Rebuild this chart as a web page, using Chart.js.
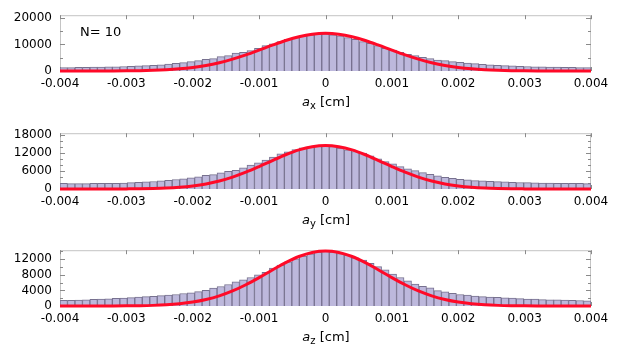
<!DOCTYPE html>
<html>
<head>
<meta charset="utf-8">
<script src="https://cdn.jsdelivr.net/npm/chart.js@4.4.0/dist/chart.umd.min.js"></script>
<style>
  body { margin: 0; background: #fff; }
  #wrap { position: relative; width: 632px; height: 357px; overflow: hidden; font-family: "DejaVu Sans", sans-serif; }
  canvas { position: absolute; left: 0; }
  .xt { position: absolute; left: 226px; width: 200px; text-align: center; font-size: 13px; line-height: 16px; color: #000; }
  .xt sub { font-size: 10px; vertical-align: -3px; line-height: 0; }
  .note { position: absolute; left: 80px; top: 24px; font-size: 13px; line-height: 16px; }
</style>
</head>
<body>
<div id="wrap">
  <canvas id="cx" width="632" height="95" style="top:0px"></canvas>
  <canvas id="cy" width="632" height="95" style="top:118px"></canvas>
  <canvas id="cz" width="632" height="95" style="top:235px"></canvas>
  <div class="note">N= 10</div>
  <div class="xt" style="top:94px"><i>a</i><sub>x</sub> [cm]</div>
  <div class="xt" style="top:212px"><i>a</i><sub>y</sub> [cm]</div>
  <div class="xt" style="top:329px"><i>a</i><sub>z</sub> [cm]</div>
</div>
<script>
Chart.defaults.font.family = "DejaVu Sans";
Chart.defaults.font.size = 12;
Chart.defaults.color = '#000';

// histogram range, 71 bins
const binLo = -0.004;
const binHi = 0.004;
const nBins = 71;

// counts per bin, left to right
const countsX = [
  1300,1300,1350,1400,1450,1500,1550,1600,1700,1800,1900,2000,2150,2350,2600,2850,3150,3500,
  3900,4400,4650,5400,5800,6700,7050,7650,8550,9550,10200,11050,11950,12550,13200,13600,13850,
  13950,
  13600,13200,12550,11950,11050,10450,9550,8550,7900,7050,6300,5800,5150,4650,4150,3900,3500,
  3300,3000,2750,2500,2300,2150,2000,1900,1800,1700,1600,1550,1500,1450,1400,1350,1300,1300
];
const countsY = [
  1900,1800,1800,1800,1850,1850,1900,1900,2000,2100,2200,2350,2500,2700,2900,3150,3400,3670,
  4000,4560,4780,5330,5890,6220,7000,7890,8670,9560,10560,11670,12330,13100,13670,14000,14200,
  14300,
  14100,13560,13000,12440,11890,11000,10000,9100,8330,7440,6670,6110,5440,4890,4330,3890,3560,
  3220,3000,2800,2700,2550,2450,2350,2250,2150,2100,2050,2000,1950,1900,1900,1850,1850,1800
];
const countsZ = [
  1450,1450,1500,1600,1700,1750,1850,1950,2050,2150,2300,2400,2500,2650,2800,2950,3200,3400,
  3700,4000,4600,5000,5500,6200,6700,7300,8000,8600,9700,10500,11300,12100,12800,13400,13800,
  14000,
  13850,13450,13020,12340,11760,10930,10080,9240,8160,7300,6470,5640,5040,4630,3950,3620,3270,
  2950,2770,2520,2400,2300,2200,2100,2000,1900,1800,1750,1650,1600,1550,1500,1450,1400,1350
];

// red fit curve, sampled every 0.0002 from -0.004 to 0.004
const curveStep = 0.0002;
const curveX = [1,3,6,15,30,70,140,260,470,810,1340,2090,3130,4460,6060,7860,9730,11480,12920,13870,
  14200,13870,12920,11480,9730,7860,6060,4460,3130,2090,1340,810,470,260,140,70,30,15,6,3,1];
const curveY = [0,1,2,6,15,40,80,170,320,590,1030,1690,2660,3950,5560,7440,9440,11350,12960,14020,
  14400,14020,12960,11350,9440,7440,5560,3950,2660,1690,1030,590,320,170,80,40,15,6,2,1,0];
const curveZ = [0,1,2,6,15,40,80,160,310,580,1000,1660,2600,3860,5450,7280,9240,11120,12690,13730,
  14100,13730,12690,11120,9240,7280,5450,3860,2600,1660,1000,580,310,160,80,40,15,6,2,1,0];

// x ticks (same for all panels)
const xTicks = [-0.004, -0.003, -0.002, -0.001, 0, 0.001, 0.002, 0.003, 0.004];
const xLabels = ['-0.004', '-0.003', '-0.002', '-0.001', '0', '0.001', '0.002', '0.003', '0.004'];

// y ticks: all tick marks, the labelled ones, and the axis max
const yTicksX = [0, 5000, 10000, 15000, 20000];
const yLabelsX = [0, 10000, 20000];
const yMaxX = 21000;
const yTicksY = [0, 2000, 4000, 6000, 8000, 10000, 12000, 14000, 16000, 18000];
const yLabelsY = [0, 6000, 12000, 18000];
const yMaxY = 18500;
const yTicksZ = [0, 2000, 4000, 6000, 8000, 10000, 12000, 14000];
const yLabelsZ = [0, 4000, 8000, 12000];
const yMaxZ = 14300;

const binWidth = (binHi - binLo) / nBins;

// box round the plot with small inward ticks
const frame = {
  id: 'frame',
  beforeDatasetsDraw(chart, args, opts) {
    const ctx = chart.ctx;
    const a = chart.chartArea;
    const sx = chart.scales.x;
    const sy = chart.scales.y;
    ctx.save();
    ctx.strokeStyle = '#c4c4c4';
    ctx.lineWidth = 1;
    ctx.strokeRect(a.left + 0.5, a.top + 0.5, a.width - 1, a.height - 1);
    ctx.strokeStyle = '#8a8a8a';
    ctx.beginPath();
    sx.ticks.forEach(t => {
      const px = Math.round(sx.getPixelForValue(t.value)) + 0.5;
      ctx.moveTo(px, a.top); ctx.lineTo(px, a.top + 4);
      ctx.moveTo(px, a.bottom); ctx.lineTo(px, a.bottom - 4);
    });
    sy.ticks.forEach(t => {
      const py = Math.round(sy.getPixelForValue(t.value)) + 0.5;
      const len = opts.labels.includes(t.value) ? 5 : 3;
      ctx.moveTo(a.left, py); ctx.lineTo(a.left + len, py);
      ctx.moveTo(a.right, py); ctx.lineTo(a.right - len, py);
    });
    ctx.stroke();
    ctx.restore();
  }
};

function drawPanel(id, counts, curve, yTicks, yLabels, yMax) {
  let bars = [];
  for (let i = 0; i < counts.length; i++) {
    bars.push({ x: binLo + (i + 0.5) * binWidth, y: counts[i] });
  }
  let line = [];
  for (let i = 0; i < curve.length; i++) {
    line.push({ x: binLo + i * curveStep, y: curve[i] });
  }

  new Chart(document.getElementById(id), {
    type: 'bar',
    data: {
      datasets: [
        {
          type: 'line',
          data: line,
          borderColor: '#ff0a28',
          borderWidth: 3,
          pointRadius: 0,
          cubicInterpolationMode: 'monotone',
          clip: false,
          order: 0
        },
        {
          data: bars,
          backgroundColor: '#bdb8dc',
          borderColor: '#77718f',
          borderWidth: 1,
          barPercentage: 1,
          categoryPercentage: 1,
          order: 1
        }
      ]
    },
    options: {
      responsive: false,
      animation: false,
      layout: { padding: { top: 15, right: 41, left: 0, bottom: 0 } },
      plugins: {
        legend: { display: false },
        tooltip: { enabled: false },
        frame: { labels: yLabels }
      },
      scales: {
        x: {
          type: 'linear',
          min: binLo,
          max: binHi,
          offset: false,
          grid: { display: false, drawTicks: false },
          border: { display: false },
          afterFit: s => { s.height = 24; },
          afterBuildTicks: s => { s.ticks = xTicks.map(v => ({ value: v })); },
          ticks: {
            autoSkip: false,
            maxRotation: 0,
            padding: 6,
            callback: (v, i) => xLabels[i]
          }
        },
        y: {
          min: 0,
          max: yMax,
          grid: { display: false, drawTicks: false },
          border: { display: false },
          afterFit: s => { s.width = 60; },
          afterBuildTicks: s => { s.ticks = yTicks.map(v => ({ value: v })); },
          ticks: {
            autoSkip: false,
            padding: 8,
            callback: v => yLabels.includes(v) ? String(v) : ''
          }
        }
      }
    },
    plugins: [frame]
  });
}

drawPanel('cx', countsX, curveX, yTicksX, yLabelsX, yMaxX);
drawPanel('cy', countsY, curveY, yTicksY, yLabelsY, yMaxY);
drawPanel('cz', countsZ, curveZ, yTicksZ, yLabelsZ, yMaxZ);
</script>
</body>
</html>
